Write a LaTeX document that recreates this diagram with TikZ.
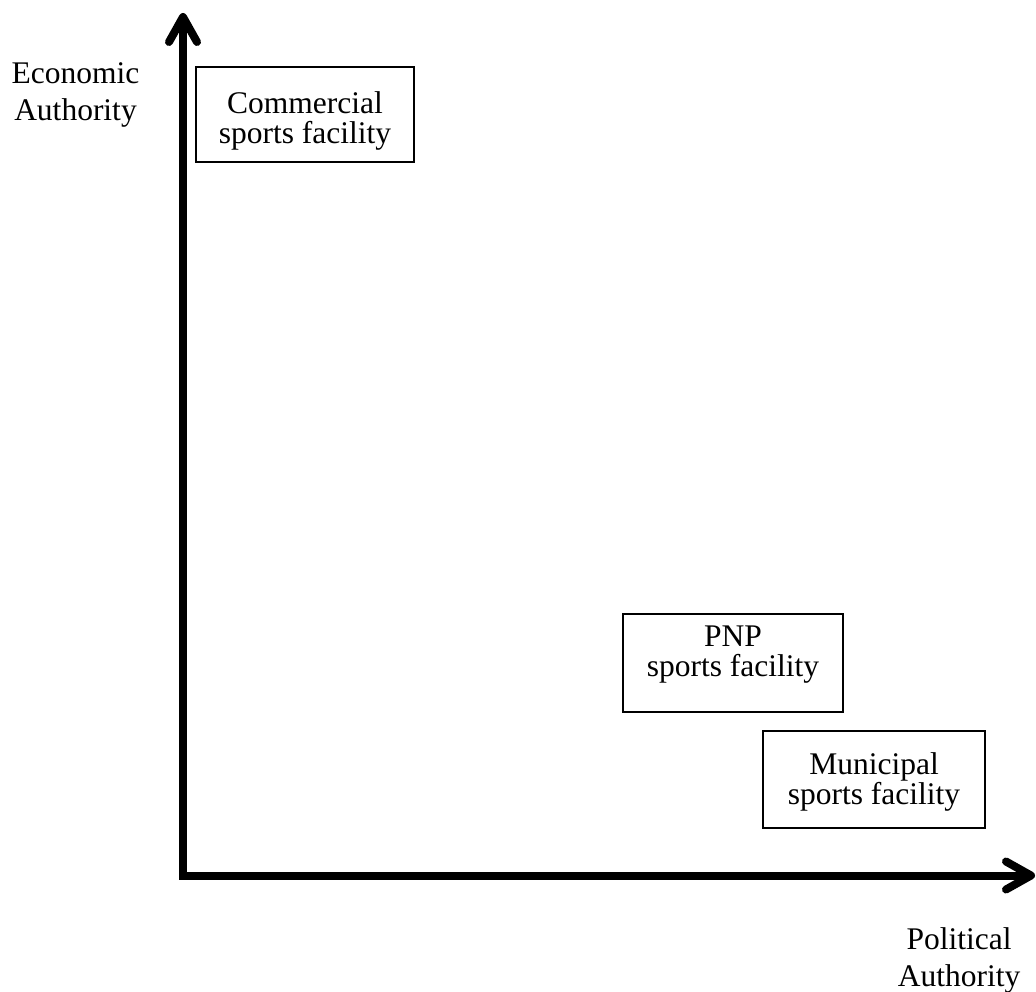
\documentclass[tikz,border=0pt]{standalone}
\usepackage{fontspec}
\setmainfont{Liberation Serif}
\usetikzlibrary{arrows.meta}
\begin{document}
\begin{tikzpicture}[x=1pt,y=-1pt,
  box/.style={draw=black, line width=2.2pt, rectangle, inner sep=0pt},
  boxtext/.style={align=center, inner sep=0pt, font=\fontsize{31.5}{30}\selectfont},
  axislabel/.style={align=center, inner sep=0pt, font=\fontsize{31.5}{36.5}\selectfont},
  axistip/.style={Straight Barb[length=25pt,width=28pt,line cap=round,line join=round]},
  axis/.style={line width=8pt, line join=miter, {Straight Barb[length=25pt,width=28pt,line cap=round,line join=round]}-{Straight Barb[length=25pt,width=28pt,line cap=round,line join=round]}}
]
\useasboundingbox (0,0) rectangle (1036,992);
\coordinate (O) at (183,875.5);
\coordinate (ytip) at (183,13);
\coordinate (xtip) at (1035,875.5);
\draw[axis] (ytip) -- (O) -- (xtip);

\node[axislabel] (econ) at (75.5,95) {Economic\\Authority};
\node[axislabel] (pol) at (959,960.5) {Political\\Authority};

\node[box, minimum width=218pt, minimum height=95pt] (comm) at (305,114.5) {};
\node[boxtext] (commT) at (305,120.5) {Commercial\\sports facility};

\node[box, minimum width=220pt, minimum height=98pt] (pnp) at (733,663) {};
\node[boxtext] (pnpT) at (733,655) {PNP\\sports facility};

\node[box, minimum width=222pt, minimum height=97pt] (muni) at (874,779.5) {};
\node[boxtext] (muniT) at (874,781.5) {Municipal\\sports facility};
\end{tikzpicture}
\end{document}
